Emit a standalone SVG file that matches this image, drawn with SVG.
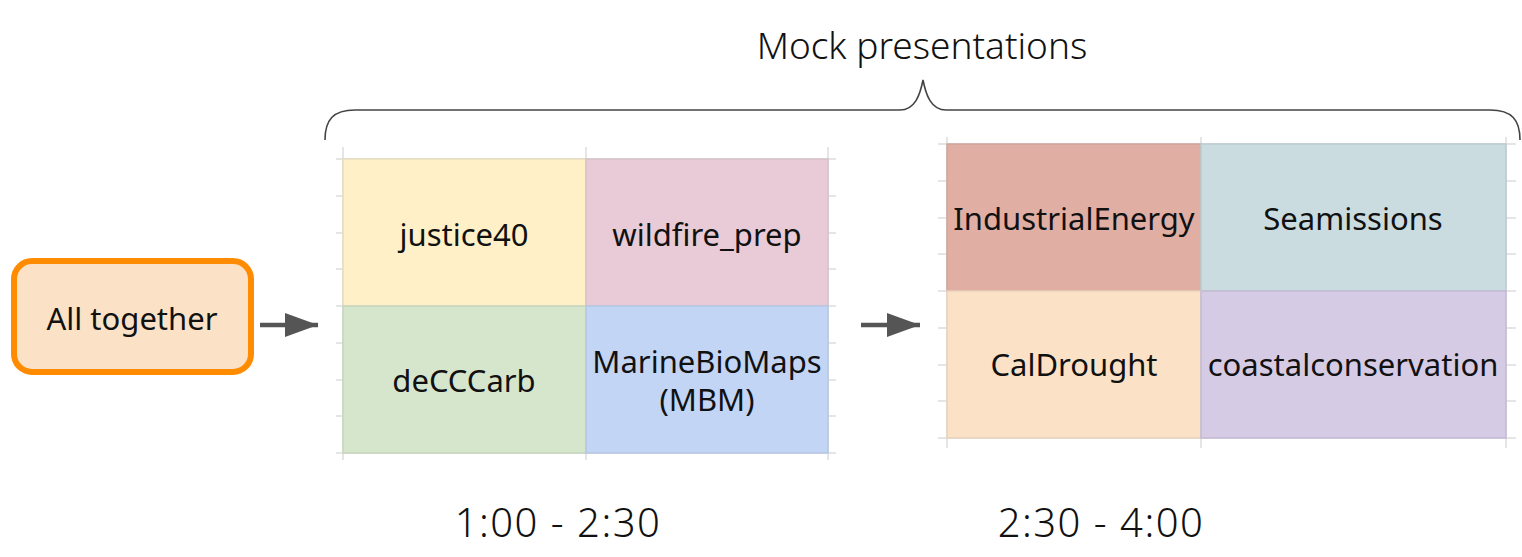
<svg xmlns="http://www.w3.org/2000/svg" width="1522" height="557" viewBox="0 0 1522 557">
<style>
text{font-family:"Noto Sans",Lato,"Liberation Sans",sans-serif;fill:#111;text-anchor:middle;dominant-baseline:central}
.cell{font-size:31px}
.big{font-size:37px;font-weight:300}
.time{font-size:40px;font-weight:300;letter-spacing:1.5px}
.grid line{stroke:#dcdcdc;stroke-width:1.5}
.sep{stroke-width:1.5}
.arrow{stroke:#555;stroke-width:4.5}
</style>
<defs>
<marker id="ah" markerWidth="34" markerHeight="24" refX="33" refY="12" markerUnits="userSpaceOnUse" orient="auto">
<path d="M0,0 L33,12 L0,24 Z" fill="#555"/>
</marker>
</defs>
<rect width="1522" height="557" fill="#fff"/>

<text id="title" class="big" x="922" y="44">Mock presentations</text>
<path id="brace" d="M325,140 C325,120 333,110 355,110 L900,110 C915,110 920,95 923,80 C926,95 931,110 946,110 L1490,110 C1512,110 1520,120 1520,140" fill="none" stroke="#444" stroke-width="1.6"/>

<g id="all-together">
<rect x="14" y="261" width="237" height="111" rx="18" fill="#fbe2c6" stroke="#ff8c00" stroke-width="6"/>
<text class="cell" x="132" y="318">All together</text>
</g>

<g id="grid1">
<g class="grid">
<line x1="343" y1="147" x2="343" y2="460"/><line x1="586" y1="147" x2="586" y2="460"/><line x1="828" y1="147" x2="828" y2="460"/>
<line x1="336" y1="159" x2="836" y2="159"/><line x1="336" y1="196" x2="836" y2="196"/><line x1="336" y1="233" x2="836" y2="233"/><line x1="336" y1="269" x2="836" y2="269"/><line x1="336" y1="306" x2="836" y2="306"/><line x1="336" y1="343" x2="836" y2="343"/><line x1="336" y1="380" x2="836" y2="380"/><line x1="336" y1="416" x2="836" y2="416"/><line x1="336" y1="453" x2="836" y2="453"/>
</g>
<g id="justice40"><rect x="343" y="159" width="243" height="147" fill="#fff0c7" stroke="#e6dcc0" class="sep"/><text class="cell" x="464" y="234">justice40</text></g>
<g id="wildfire_prep"><rect x="586" y="159" width="242" height="147" fill="#e8cbd6" stroke="#d6c2ca" class="sep"/><text class="cell" x="707" y="234">wildfire_prep</text></g>
<g id="deCCCarb"><rect x="343" y="306" width="243" height="147" fill="#d6e6cd" stroke="#c6d6bd" class="sep"/><text class="cell" x="464" y="380">deCCCarb</text></g>
<g id="MBM"><rect x="586" y="306" width="242" height="147" fill="#c3d5f5" stroke="#b5c6e2" class="sep"/><text class="cell" x="707" y="361">MarineBioMaps</text><text class="cell" x="707" y="399">(MBM)</text></g>
</g>

<g id="grid2">
<g class="grid">
<line x1="947" y1="137" x2="947" y2="448"/><line x1="1201" y1="137" x2="1201" y2="448"/><line x1="1506" y1="137" x2="1506" y2="448"/>
<line x1="938" y1="144" x2="1516" y2="144"/><line x1="938" y1="181" x2="1516" y2="181"/><line x1="938" y1="218" x2="1516" y2="218"/><line x1="938" y1="254" x2="1516" y2="254"/><line x1="938" y1="291" x2="1516" y2="291"/><line x1="938" y1="328" x2="1516" y2="328"/><line x1="938" y1="365" x2="1516" y2="365"/><line x1="938" y1="401" x2="1516" y2="401"/><line x1="938" y1="438" x2="1516" y2="438"/>
</g>
<g id="IndustrialEnergy"><rect x="947" y="144" width="254" height="147" fill="#e1aea4" stroke="#d0a59c" class="sep"/><text class="cell" x="1074" y="218">IndustrialEnergy</text></g>
<g id="Seamissions"><rect x="1201" y="144" width="305" height="147" fill="#cadcdf" stroke="#b9ccd0" class="sep"/><text class="cell" x="1353" y="218">Seamissions</text></g>
<g id="CalDrought"><rect x="947" y="291" width="254" height="147" fill="#fbe1c6" stroke="#e8d2bc" class="sep"/><text class="cell" x="1074" y="364">CalDrought</text></g>
<g id="coastalconservation"><rect x="1201" y="291" width="305" height="147" fill="#d5cbe5" stroke="#c3bad4" class="sep"/><text class="cell" x="1353" y="364">coastalconservation</text></g>
</g>

<g id="connectors">
<line class="arrow" x1="260" y1="325" x2="318" y2="325" marker-end="url(#ah)"/>
<line class="arrow" x1="861" y1="325" x2="920" y2="325" marker-end="url(#ah)"/>
</g>

<text id="time1" class="time" x="558" y="521">1:00 - 2:30</text>
<text id="time2" class="time" x="1101" y="521">2:30 - 4:00</text>
</svg>
